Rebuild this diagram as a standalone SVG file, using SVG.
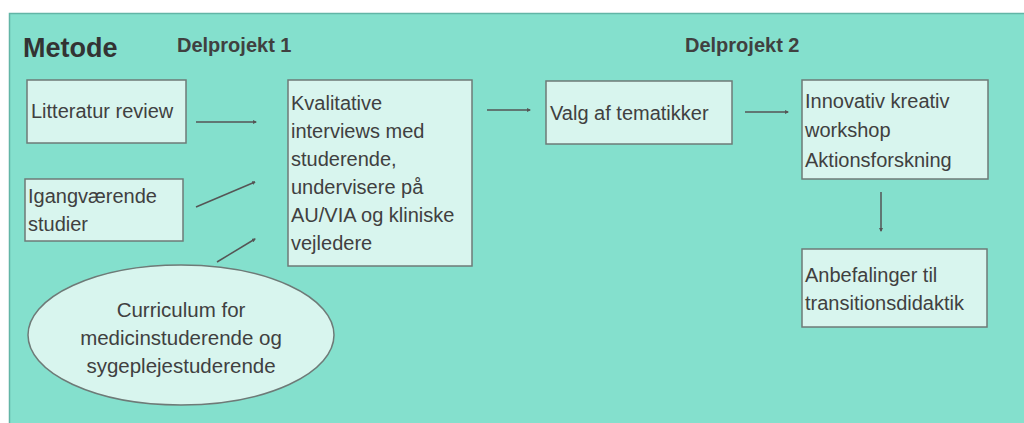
<svg xmlns="http://www.w3.org/2000/svg" width="1024" height="423" viewBox="0 0 1024 423">
<style>
text{font-family:"Liberation Sans",Arial,sans-serif;fill:#404040}
.n{font-size:20px}
.e{font-size:20.5px}
.h{font-size:20px;font-weight:bold}
.box{fill:#d8f5ee;stroke:#6e7a77;stroke-width:1.5}
.c{stroke:#555;stroke-width:1.5;fill:none;marker-end:url(#ah)}
</style>
<defs>
<marker id="ah" markerWidth="4" markerHeight="4" refX="3" refY="2" orient="auto" markerUnits="userSpaceOnUse">
<path d="M0,0 L4,2 L0,4 z" fill="#555"/>
</marker>
</defs>
<rect width="1024" height="423" fill="#fff"/>
<rect x="9.5" y="13.5" width="1020" height="420" fill="#84e0cd" stroke="#62b5a6" stroke-width="1.5"/>
<text x="23" y="57" style="font-size:27px;font-weight:bold;fill:#333">Metode</text>
<text class="h" x="177" y="52">Delprojekt 1</text>
<text class="h" x="685" y="52">Delprojekt 2</text>
<g id="connectors">
<line class="c" x1="196" y1="122" x2="256" y2="122"/>
<line class="c" x1="196" y1="207" x2="255" y2="182"/>
<line class="c" x1="217" y1="262" x2="255" y2="239"/>
<line class="c" x1="487" y1="110" x2="530" y2="110"/>
<line class="c" x1="745" y1="112" x2="788" y2="112"/>
<line class="c" x1="881" y1="192" x2="881" y2="231"/>
</g>
<g id="litteratur">
<rect class="box" x="27" y="80" width="159" height="63"/>
<text class="n" x="31" y="118">Litteratur review</text>
</g>
<g id="igang">
<rect class="box" x="25" y="179" width="158" height="62"/>
<text class="n" x="28" y="203">Igangværende</text>
<text class="n" x="28" y="231">studier</text>
</g>
<g id="curriculum">
<ellipse cx="181" cy="335" rx="153" ry="70" fill="#d8f5ee" stroke="#6e7a77" stroke-width="1.5"/>
<text class="e" x="181" y="317" text-anchor="middle">Curriculum for</text>
<text class="e" x="181" y="345" text-anchor="middle">medicinstuderende og</text>
<text class="e" x="181" y="373" text-anchor="middle">sygeplejestuderende</text>
</g>
<g id="kvalitative">
<rect class="box" x="288" y="80" width="184" height="186"/>
<text class="n" x="291" y="110">Kvalitative</text>
<text class="n" x="291" y="138">interviews med</text>
<text class="n" x="291" y="166">studerende,</text>
<text class="n" x="291" y="194">undervisere på</text>
<text class="n" x="291" y="222">AU/VIA og kliniske</text>
<text class="n" x="291" y="250">vejledere</text>
</g>
<g id="valg">
<rect class="box" x="546" y="81" width="186" height="63"/>
<text class="n" x="550" y="120">Valg af tematikker</text>
</g>
<g id="innovativ">
<rect class="box" x="802" y="80" width="186" height="99"/>
<text class="n" x="805" y="108">Innovativ kreativ</text>
<text class="n" x="805" y="137">workshop</text>
<text class="n" x="805" y="167">Aktionsforskning</text>
</g>
<g id="anbefalinger">
<rect class="box" x="802" y="249" width="185" height="78"/>
<text class="n" x="805" y="282">Anbefalinger til</text>
<text class="n" x="805" y="310">transitionsdidaktik</text>
</g>
</svg>
